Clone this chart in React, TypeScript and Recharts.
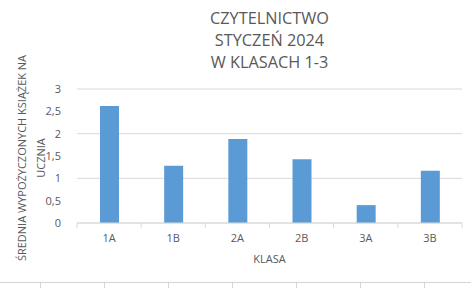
import React from "react";
import { BarChart, Bar, XAxis, YAxis, CartesianGrid, Label } from "recharts";

const classes = ["1A", "1B", "2A", "2B", "3A", "3B"];
const averages = [2.62, 1.28, 1.88, 1.43, 0.4, 1.17];
const yTicks = [0, 0.5, 1, 1.5, 2, 2.5, 3];
const titleLines = ["CZYTELNICTWO", "STYCZEŃ 2024", "W KLASACH 1-3"];
const yLabelLines = ["ŚREDNIA WYPOŻYCZONYCH KSIĄŻEK NA", "UCZNIA"];
const xLabel = "KLASA";
const cellBorders = [40, 104, 168, 232, 296, 360, 424];

const FONT = "'Open Sans', 'Noto Sans', sans-serif";
const TEXT = "#595959";
const GRID = "#d9d9d9";

const chartData = classes.map((c, i) => ({ klasa: c, value: averages[i] }));

const fmt = (v: number) => String(v).replace(".", ",");

const App: React.FC = () => {
  return (
    <div
      style={{
        position: "absolute",
        left: 0,
        top: 0,
        width: 471,
        height: 288,
        background: "#fff",
        fontFamily: FONT,
        overflow: "hidden",
      }}
    >
      {/* tytuł */}
      <div
        style={{
          position: "absolute",
          left: 77,
          width: 385,
          top: 7,
          textAlign: "center",
          color: TEXT,
          fontSize: 16.3,
          lineHeight: "22px",
        }}
      >
        {titleLines.map((t) => (
          <div key={t}>{t}</div>
        ))}
      </div>

      <BarChart
        width={471}
        height={288}
        data={chartData}
        margin={{ top: 89, right: 9, left: 0, bottom: 0 }}
      >
        <CartesianGrid vertical={false} stroke={GRID} />
        <XAxis
          dataKey="klasa"
          height={65}
          axisLine={{ stroke: GRID }}
          tickLine={false}
          tick={{ fill: TEXT, fontSize: 11, fontFamily: FONT }}
          tickMargin={5}
        >
          <Label
            value={xLabel}
            position="insideTop"
            offset={32}
            fill={TEXT}
            fontSize={11}
            fontFamily={FONT}
          />
        </XAxis>
        <YAxis
          width={77}
          domain={[0, 3]}
          ticks={yTicks}
          tickFormatter={fmt}
          axisLine={false}
          tickLine={false}
          tick={{ fill: TEXT, fontSize: 11, fontFamily: FONT }}
          tickMargin={10}
        >
          <Label
            content={() => (
              <g>
                {yLabelLines.map((t, i) => (
                  <text
                    key={t}
                    x={0}
                    y={0}
                    transform={`translate(${26 + i * 19},158) rotate(-90)`}
                    textAnchor="middle"
                    fill={TEXT}
                    fontSize={11}
                    fontFamily={FONT}
                  >
                    {t}
                  </text>
                ))}
              </g>
            )}
          />
        </YAxis>
        <Bar dataKey="value" fill="#5b9bd5" barSize={19} isAnimationActive={false} />
      </BarChart>

      {/* znaczniki podziału osi X i linie arkusza */}
      <svg
        style={{ position: "absolute", left: 0, top: 0 }}
        width={471}
        height={288}
      >
        {classes.concat([""]).map((_, i) => {
          const x = 77 + (i * 385) / classes.length;
          return (
            <line key={i} x1={x} x2={x} y1={223} y2={228} stroke={GRID} />
          );
        })}
        <line x1={0} x2={471} y1={282.5} y2={282.5} stroke="#d4d4d4" />
        {cellBorders.map((x) => (
          <line key={x} x1={x + 0.5} x2={x + 0.5} y1={282} y2={288} stroke="#d4d4d4" />
        ))}
      </svg>
    </div>
  );
};

export default App;
